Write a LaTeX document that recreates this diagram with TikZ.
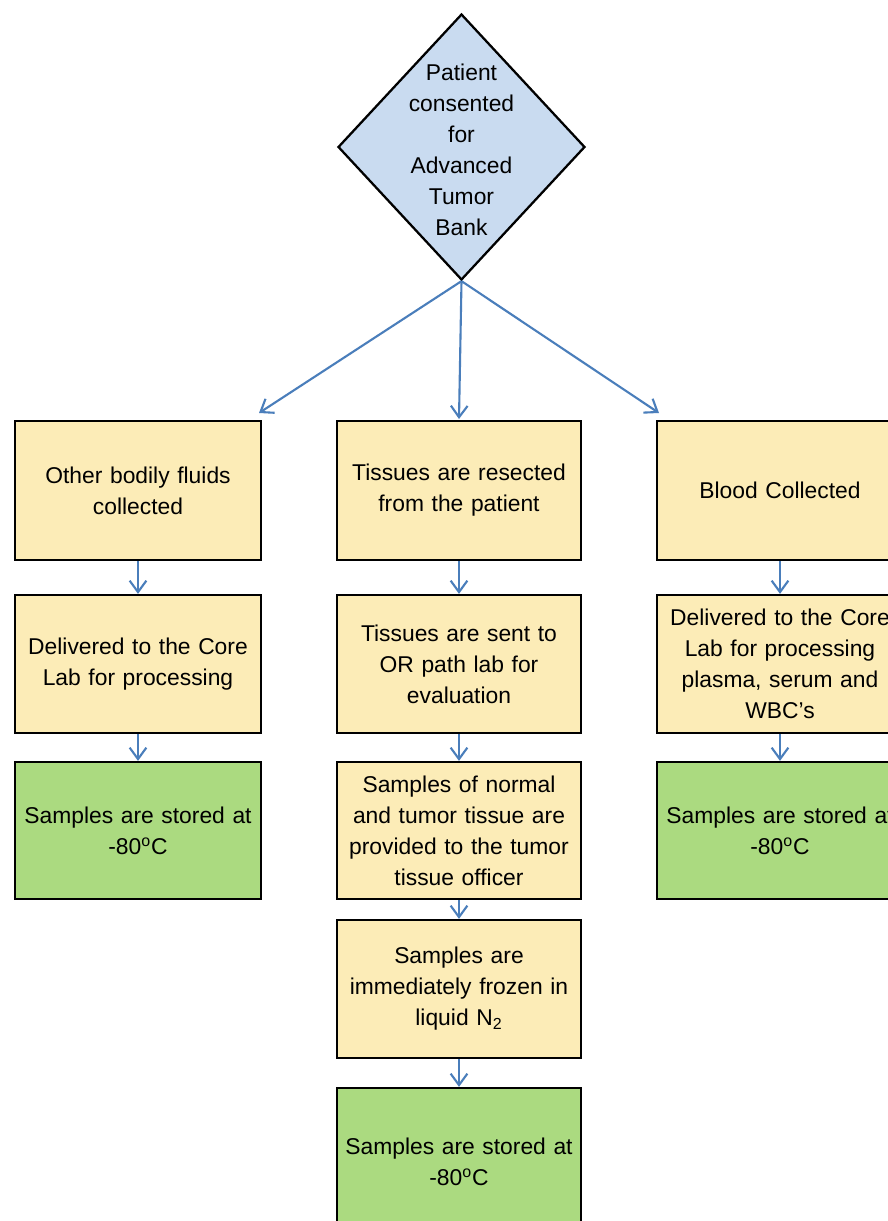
\documentclass[tikz,border=0pt]{standalone}
\usepackage{fontspec}
\setmainfont{Liberation Sans}
\usetikzlibrary{shapes.geometric,arrows.meta}
\definecolor{boxyellow}{HTML}{FCECB7}
\definecolor{boxgreen}{HTML}{ABDA80}
\definecolor{diablue}{HTML}{C9DBF0}
\definecolor{arrowblue}{HTML}{4A7EBB}
\tikzset{
  base/.style={draw=black, line width=1.3pt, rectangle, inner sep=0pt, align=center,
    font=\fontsize{13}{17.6}\selectfont, text width=4.6cm, minimum width=4.92cm},
  ybox/.style={base, fill=boxyellow},
  gbox/.style={base, fill=boxgreen},
  conn/.style={draw=arrowblue, line width=1.2pt, -{Straight Barb[length=6.5pt,width=9.5pt,line width=1.2pt]}},
}
\begin{document}
\begin{tikzpicture}[x=0.02cm,y=-0.02cm]
\useasboundingbox (0,0) rectangle (888,1221);
\clip (0,0) rectangle (888,1221);
\fill[white] (0,0) rectangle (888,1221);
% diamond
\node[diamond, draw=black, line width=1.3pt, fill=diablue, inner sep=0pt,
  minimum width=4.94cm, minimum height=5.32cm] (d) at (461.5,147) {};
\node[align=center, font=\fontsize{13}{17.6}\selectfont] (dtext) at (461.5,150)
  {Patient\\consented\\for\\Advanced\\Tumor\\Bank};
% left column
\node[ybox, minimum height=2.78cm] (l1) at (138,490.5) {Other bodily fluids\\collected};
\node[ybox, minimum height=2.76cm] (l2) at (138,664) {Delivered to the Core\\Lab for processing};
\node[gbox, minimum height=2.74cm] (l3) at (138,830.5) {Samples are stored at\\-80\textsuperscript{o}C};
% center column
\node[ybox, minimum width=4.88cm, minimum height=2.78cm] (c1) at (459,490.5) {Tissues are resected\\from the patient};
\node[ybox, minimum width=4.88cm, minimum height=2.76cm] (c2) at (459,664) {Tissues are sent to\\OR path lab for\\evaluation};
\node[ybox, minimum width=4.88cm, minimum height=2.74cm] (c3) at (459,830.5) {Samples of normal\\and tumor tissue are\\provided to the tumor\\tissue officer};
\node[ybox, minimum width=4.88cm, minimum height=2.76cm] (c4) at (459,989) {Samples are\\immediately frozen in\\liquid N\textsubscript{2}};
\node[gbox, minimum width=4.88cm, minimum height=2.94cm] (c5) at (459,1161.5) {Samples are stored at\\-80\textsuperscript{o}C};
% right column
\node[ybox, minimum height=2.78cm] (r1) at (780,490.5) {Blood Collected};
\node[ybox, minimum height=2.76cm] (r2) at (780,664) {Delivered to the Core\\Lab for processing\\plasma, serum and\\WBC’s};
\node[gbox, minimum height=2.74cm] (r3) at (780,830.5) {Samples are stored at\\-80\textsuperscript{o}C};
% arrow end points
\coordinate (al) at (259,413);
\coordinate (ac) at (459,419);
\coordinate (ar) at (659,413);
\draw[conn] (d.south) -- (al);
\draw[conn] (d.south) -- (ac);
\draw[conn] (d.south) -- (ar);
\draw[conn] (l1.south) -- (l2.north);
\draw[conn] (l2.south) -- (l3.north);
\draw[conn] (c1.south) -- (c2.north);
\draw[conn] (c2.south) -- (c3.north);
\draw[conn] (c3.south) -- (c4.north);
\draw[conn] (c4.south) -- (c5.north);
\draw[conn] (r1.south) -- (r2.north);
\draw[conn] (r2.south) -- (r3.north);
\end{tikzpicture}
\end{document}
